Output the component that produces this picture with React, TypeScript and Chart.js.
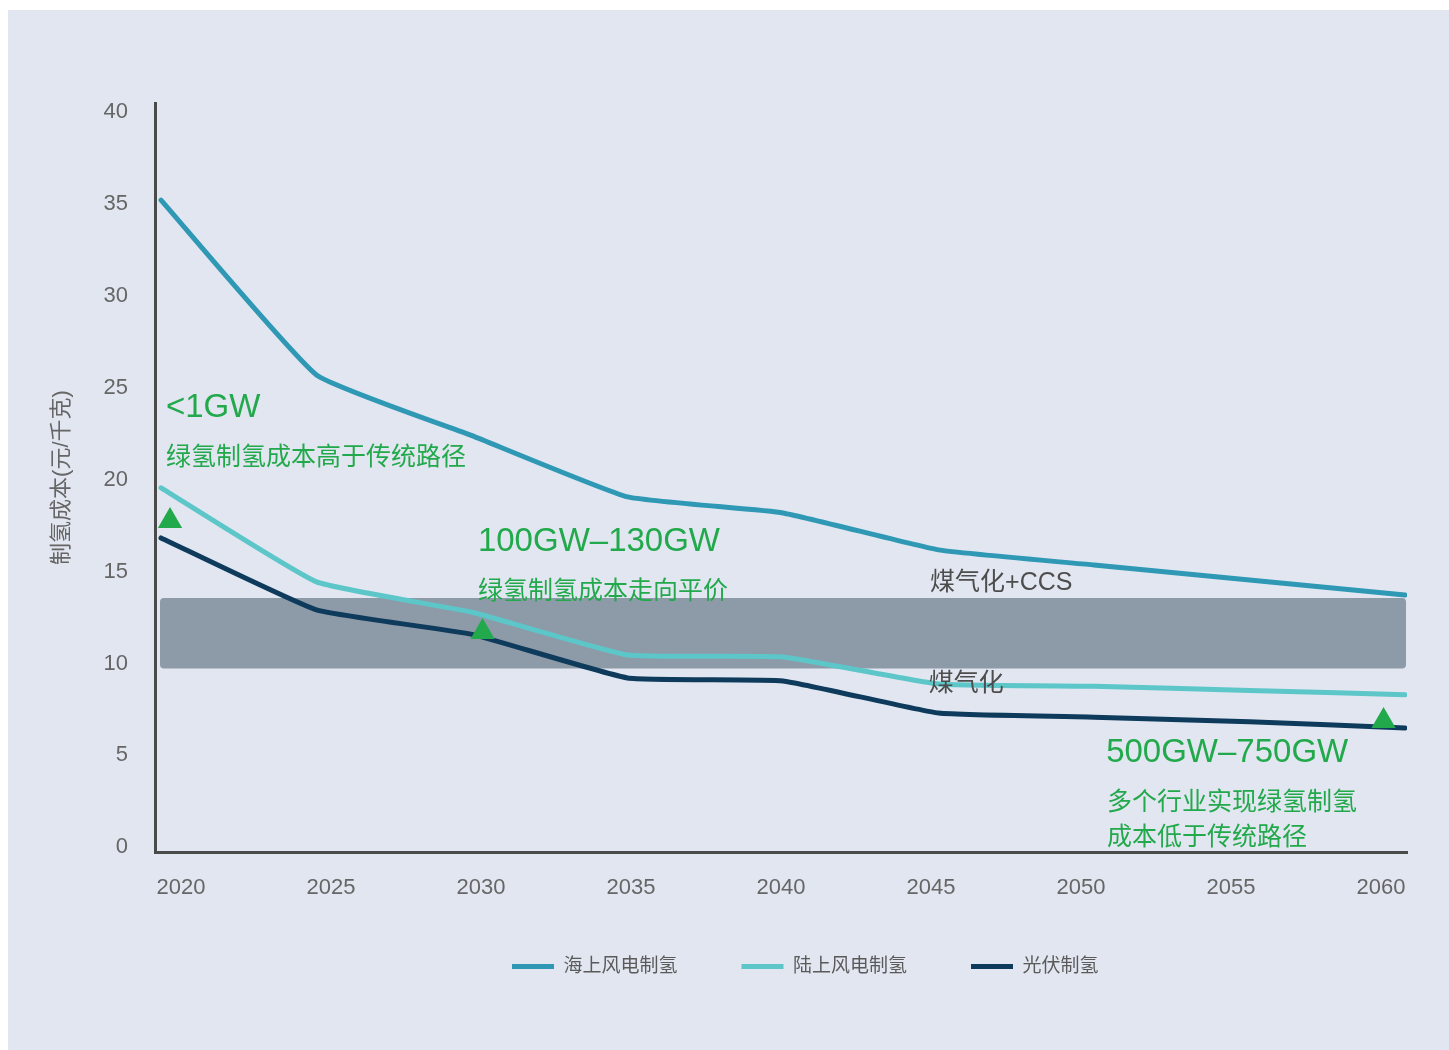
import React, { useEffect, useRef } from "react";
import { Chart, registerables } from "chart.js";

Chart.register(...registerables);

// ---------- data ----------
const years = [2020, 2025, 2030, 2035, 2040, 2045, 2050, 2055, 2060];
const offshoreCost = [35.1, 25.6, 22.3, 18.97, 18.1, 16.09, 15.27, 14.46, 13.64];
const onshoreCost = [19.46, 14.35, 12.7, 10.38, 10.27, 8.8, 8.68, 8.45, 8.22];
const solarCost = [16.74, 12.83, 11.5, 9.13, 8.97, 7.22, 7.0, 6.75, 6.41];
const seriesNames = ["海上风电制氢", "陆上风电制氢", "光伏制氢"];
const yTickValues = [0, 5, 10, 15, 20, 25, 30, 35, 40];
const xTickLabels = [2020, 2025, 2030, 2035, 2040, 2045, 2050, 2055, 2060];
const markerYears = [2020.29, 2030.34, 2059.31];
const markerCosts = [17.66, 11.63, 6.79];
const coalBandCost = [9.65, 13.48];
const coalBandYears = [2020, 2060];
const yAxisTitle = "制氢成本(元/千克)";

// annotation texts with their data-space anchors
const noteTexts = [
  "<1GW",
  "绿氢制氢成本高于传统路径",
  "100GW–130GW",
  "绿氢制氢成本走向平价",
  "煤气化+CCS",
  "煤气化",
  "500GW–750GW",
  "多个行业实现绿氢制氢",
  "成本低于传统路径",
];
const noteYears = [2020.16, 2020.16, 2030.19, 2030.19, 2044.73, 2044.69, 2050.39, 2050.42, 2050.42];
const noteCosts = [23.8, 21.1, 16.5, 13.82, 14.3, 8.82, 5.03, 2.35, 0.4];
const noteKinds = ["big", "small", "big", "small", "gray", "gray", "big", "small", "small"];

// ---------- styles ----------
const FONT = '"Liberation Sans", "Noto Sans CJK SC", sans-serif';
const COLORS = ["#2f98b4", "#5cc6c8", "#0e3a5c"];
const GREEN = "#22a94b";
const AXIS = "#4a4a4a";
const TICK = "#666666";

const overlayPlugin = {
  id: "overlay",
  afterLayout(chart: any) {
    const lg = chart.legend;
    if (!lg || !lg.lineWidths) return;
    const p = lg.options.labels.padding;
    const start = (lg.left + p + lg.right - lg.lineWidths[0]) / 2;
    const dx = 504 - start;
    lg.left += dx;
    lg.right += dx;
    const itemH = Math.max(lg.options.labels.font.size, lg.options.labels.boxHeight);
    const dy = 956.5 - (lg.top + p + itemH / 2);
    lg.top += dy;
    lg.bottom += dy;
  },
  beforeDatasetsDraw(chart: any) {
    const { ctx, scales } = chart;
    const x = scales.x;
    const y = scales.y;
    const x0 = x.getPixelForValue(coalBandYears[0]) - 1;
    const x1 = x.getPixelForValue(coalBandYears[1]) + 1;
    const yTop = y.getPixelForValue(coalBandCost[1]);
    const yBot = y.getPixelForValue(coalBandCost[0]);
    ctx.save();
    ctx.fillStyle = "#8d9aa8";
    ctx.beginPath();
    (ctx as any).roundRect(x0, yTop, x1 - x0, yBot - yTop, 4);
    ctx.fill();
    ctx.restore();
  },
  afterDatasetsDraw(chart: any) {
    const { ctx, scales } = chart;
    const x = scales.x;
    const y = scales.y;
    ctx.save();
    ctx.textAlign = "left";
    ctx.textBaseline = "middle";
    noteTexts.forEach((t, i) => {
      const k = noteKinds[i];
      if (k === "big") {
        ctx.font = `33px ${FONT}`;
        ctx.fillStyle = GREEN;
      } else if (k === "small") {
        ctx.font = `25px ${FONT}`;
        ctx.fillStyle = GREEN;
      } else {
        ctx.font = `25px ${FONT}`;
        ctx.fillStyle = "#4d4d4d";
      }
      ctx.fillText(t, x.getPixelForValue(noteYears[i]), y.getPixelForValue(noteCosts[i]));
    });
    ctx.restore();
  },
};

export default function App() {
  const ref = useRef<HTMLCanvasElement | null>(null);

  useEffect(() => {
    document.documentElement.style.overflow = "hidden";
    const canvas = ref.current;
    if (!canvas) return;

    const lineSet = (label: string, vals: number[], color: string) => ({
      type: "line" as const,
      label,
      data: years.map((yr, i) => ({ x: yr, y: vals[i] })),
      borderColor: color,
      backgroundColor: color,
      borderWidth: 5,
      pointRadius: 0,
      tension: 0.12,
      borderCapStyle: "round" as const,
      borderJoinStyle: "round" as const,
      xAxisID: "x",
      yAxisID: "y",
      order: 2,
    });

    const chart = new Chart(canvas, {
      type: "line",
      data: {
        datasets: [
          {
            type: "scatter" as const,
            label: "markers",
            data: markerYears.map((yr, i) => ({ x: yr, y: markerCosts[i] })),
            pointStyle: "triangle",
            pointRadius: 14,
            pointHoverRadius: 14,
            backgroundColor: GREEN,
            borderColor: GREEN,
            borderWidth: 0,
            showLine: false,
            xAxisID: "x",
            yAxisID: "y",
            order: 0,
          } as any,
          lineSet(seriesNames[0], offshoreCost, COLORS[0]),
          lineSet(seriesNames[1], onshoreCost, COLORS[1]),
          lineSet(seriesNames[2], solarCost, COLORS[2]),
        ],
      },
      options: {
        responsive: false,
        animation: false,
        events: [],
        layout: { padding: { top: 93, right: 42, bottom: 45, left: 0 } },
        plugins: {
          tooltip: { enabled: false },
          legend: {
            position: "bottom",
            labels: {
              boxWidth: 42,
              boxHeight: 5,
              padding: 64,
              color: "#5a5a5a",
              font: { size: 19, family: FONT },
              filter: (item: any) => item.text !== "markers",
              generateLabels: (chart: any) => {
                const items = (Chart.defaults.plugins.legend.labels as any).generateLabels(chart);
                return items.map((it: any) => ({ ...it, lineWidth: 0 }));
              },
            },
          },
        },
        scales: {
          x: {
            type: "linear",
            display: false,
            min: 2019.807,
            max: 2060.064,
          },
          xl: {
            type: "linear",
            position: "bottom",
            min: 2019.133,
            max: 2060.867,
            grid: { display: false, drawTicks: false },
            border: { display: true, color: AXIS, width: 3 },
            ticks: {
              color: TICK,
              font: { size: 22, family: FONT },
              padding: 23,
              maxRotation: 0,
              autoSkip: false,
              callback: (v: any) => String(v),
            },
            afterBuildTicks: (s: any) => {
              s.ticks = xTickLabels.map((v) => ({ value: v }));
            },
            afterFit: (s: any) => {
              s.height = 60;
            },
          },
          y: {
            type: "linear",
            position: "left",
            min: -0.33,
            max: 40.38,
            grid: { display: false, drawTicks: false },
            border: { display: true, color: AXIS, width: 3 },
            ticks: {
              color: TICK,
              font: { size: 22, family: FONT },
              padding: 27,
              labelOffset: 1.5,
              callback: (v: any) => String(v),
            },
            title: {
              display: true,
              text: yAxisTitle,
              color: TICK,
              font: { size: 22, family: FONT },
              padding: { top: 41, bottom: 0 },
            },
            afterBuildTicks: (s: any) => {
              s.ticks = yTickValues.map((v) => ({ value: v }));
            },
            afterFit: (s: any) => {
              s.width = 147;
            },
          },
        },
      } as any,
      plugins: [overlayPlugin],
    });

    return () => chart.destroy();
  }, []);

  return (
    <div>
      <div
        style={{
          position: "fixed",
          left: 8,
          top: 10,
          right: 0,
          bottom: 0,
          background: "#e1e6f0",
        }}
      />
      <div style={{ position: "relative", paddingTop: 2 }}>
        <canvas ref={ref} width={1441} height={1040} style={{ display: "block" }} />
      </div>
    </div>
  );
}
